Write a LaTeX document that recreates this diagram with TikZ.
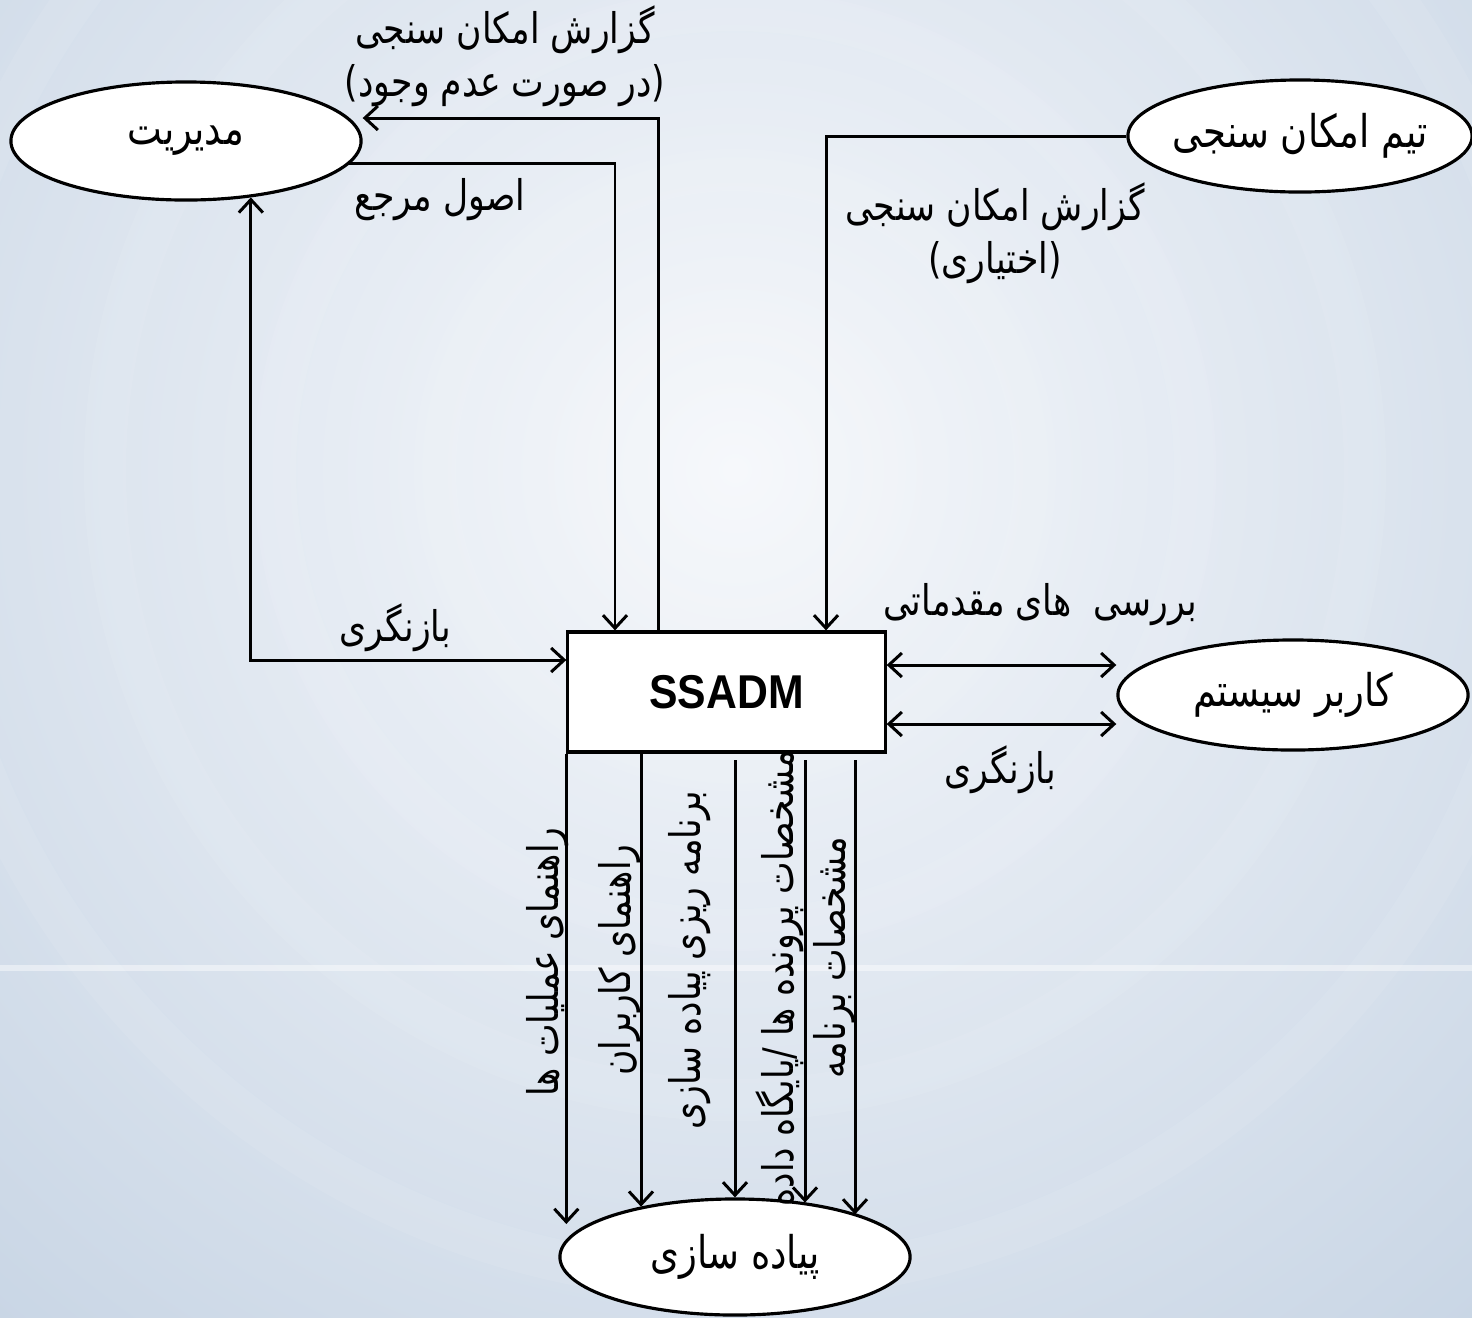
\documentclass[tikz,border=0pt]{standalone}
\usepackage{fontspec}
\setmainfont{Liberation Sans}
\newfontfamily\farsifont[Script=Arabic,FakeStretch=0.82]{DejaVu Sans}
\newfontfamily\boxfont[FakeStretch=0.9]{Liberation Sans}
\TeXXeTstate=1
\usetikzlibrary{shapes.geometric}
\usetikzlibrary{arrows.meta}

\definecolor{bgout}{RGB}{184,201,221}
\definecolor{bgin}{RGB}{246,248,251}

\newcommand{\fatext}[1]{{\farsifont\beginR #1\endR}}

\tikzset{
  actor/.style={ellipse, draw, fill=white, line width=0.9pt, inner ysep=0pt, inner xsep=-3pt,
    font=\fontsize{12.8}{15}\selectfont},
  flow/.style={line width=0.85pt, -{Straight Barb[length=1.3mm,width=2.4mm]}},
  flowboth/.style={line width=0.85pt,
    {Straight Barb[length=1.3mm,width=2.4mm]}-{Straight Barb[length=1.3mm,width=2.4mm]}},
  lbl/.style={inner sep=0pt, align=center, font=\fontsize{12}{15}\selectfont},
}

\begin{document}
\begin{tikzpicture}[x=0.01cm,y=-0.01cm]
        \useasboundingbox (0,0) rectangle (1472,1317);

        % background
        \begin{scope}
            \clip (0,0) rectangle (1472,1317);
            \fill[bgout] (0,0) rectangle (1472,1317);
            \shade[inner color=bgin, outer color=bgout] (735,470) circle (1550);
            \foreach \r in {150,300,460,630,810}
                \draw[white, opacity=0.08, line width=12pt] (735,470) circle (\r);
            \draw[white, opacity=0.45, line width=1.5pt] (0,968) -- (1472,968);
        \end{scope}

        % entities
        \node[actor, minimum width=3.5cm, minimum height=1.18cm] (mgmt) at (186,141) {\fatext{مدیریت}};
        \node[actor, minimum width=3.44cm, minimum height=1.12cm] (team) at (1300,136) {\fatext{تیم امکان سنجی}};
        \node[actor, minimum width=3.5cm, minimum height=1.1cm] (user) at (1293,695) {\fatext{کاربر سیستم}};
        \node[actor, minimum width=3.5cm, minimum height=1.16cm] (impl) at (735,1257) {\fatext{پیاده سازی}};
        \node[draw, fill=white, line width=0.9pt, minimum width=3.17cm, minimum height=1.2cm,
              font=\boxfont\bfseries\fontsize{13.5}{16}\selectfont] (ssadm) at (726.5,692) {SSADM};

        % flows at the top
        \draw[flow] (ssadm.north -| 658,0) |- (mgmt.east |- 0,118);
        \draw[flow] (mgmt.-8) -| (ssadm.north -| 615,0);
        \draw[flowboth] (mgmt.-41) |- (ssadm.west |- 0,660);
        \draw[flow] (team.west) -| (ssadm.north -| 826,0);

        % flows to the user
        \draw[flowboth] (ssadm.east |- 0,665) -- (user.west |- 0,665);
        \draw[flowboth] (ssadm.east |- 0,724) -- (user.west |- 0,724);

        % flows down to implementation
        \draw[flow] (ssadm.south west) -- (ssadm.south west |- 0,1224);
        \draw[flow] (ssadm.south -| 641,0) -- (impl.152 -| 641,0);
        \draw[flow] (735,760) -- (impl.north);
        \draw[flow] (805,760) -- (impl.37.5 -| 805,0);
        \draw[flow] (855,760) -- (impl.19.3 -| 855,0);

        % labels
        \node[lbl] (fsrep) at (505,56) {\fatext{گزارش امکان سنجی}\\\fatext{(در صورت عدم وجود)}};
        \node[lbl] (refterms) at (440,200) {\fatext{اصول مرجع}};
        \node[lbl] (revleft) at (395,628) {\fatext{بازنگری}};
        \node[lbl] (fsopt) at (995,233) {\fatext{گزارش امکان سنجی}\\\fatext{(اختیاری)}};
        \node[lbl] (prelim) at (1040,605) {\fatext{بررسی~~های مقدماتی}};
        \node[lbl] (revright) at (1000,770) {\fatext{بازنگری}};

        \node[lbl, rotate=90] (opsguide) at (548,962) {\fatext{راهنمای عملیات ها}};
        \node[lbl, rotate=90] (userguide) at (620,960) {\fatext{راهنمای کاربران}};
        \node[lbl, rotate=90] (implplan) at (690,960) {\fatext{برنامه ریزی پیاده سازی}};
        \node[lbl, rotate=90] (filespec) at (780,978) {\fatext{مشخصات پرونده ها /پایگاه داده}};
        \node[lbl, rotate=90] (progspec) at (835,958) {\fatext{مشخصات برنامه}};
\end{tikzpicture}
\end{document}
